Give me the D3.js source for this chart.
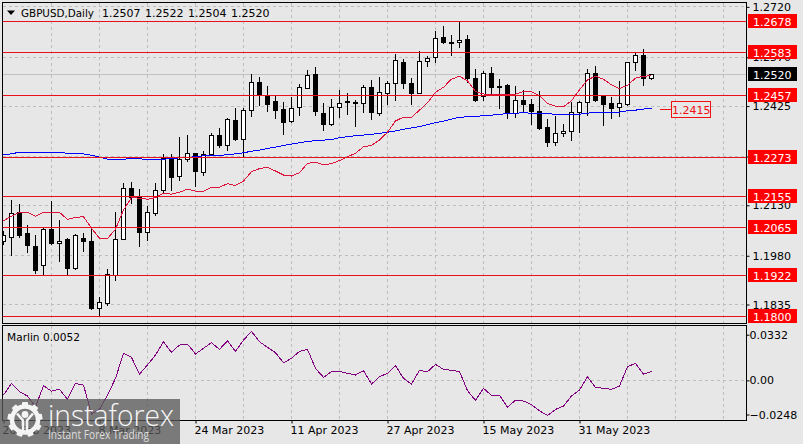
<!DOCTYPE html>
<html><head><meta charset="utf-8">
<script src="https://cdnjs.cloudflare.com/ajax/libs/d3/7.8.5/d3.min.js"></script>
<style>
html,body{margin:0;padding:0;background:#e7e7e7;overflow:hidden}
svg{display:block}
text{font-family:"DejaVu Sans",sans-serif;font-size:11px;fill:#000}
</style></head><body>
<svg id="c" width="803" height="444"></svg>
<script>
const symbolTitle="GBPUSD,Daily";
const titleValues=["1.2507","1.2522","1.2504","1.2520"];
const opens=[1.2022,1.2034,1.2108,1.2045,1.2009,1.1950,1.2059,1.2017,1.2027,1.1941,1.2030,1.2021,1.1824,1.1837,1.1921,1.2029,1.2181,1.2154,1.2050,1.2106,1.2175,1.2270,1.2215,1.2267,1.2285,1.2227,1.2282,1.2339,1.2307,1.2381,1.2326,1.2411,1.2496,1.2456,1.2438,1.2416,1.2379,1.2421,1.2478,1.2520,1.2404,1.2370,1.2421,1.2440,1.2436,1.2433,1.2481,1.2402,1.2462,1.2493,1.2555,1.2493,1.2462,1.2558,1.2570,1.2630,1.2615,1.2615,1.2622,1.2508,1.2455,1.2523,1.2484,1.2485,1.2404,1.2441,1.2431,1.2408,1.2360,1.2316,1.2343,1.2350,1.2405,1.2436,1.2523,1.2454,1.2433,1.2420,1.2429,1.2555,1.2574,1.2507];
const highs=[1.2056,1.2146,1.2134,1.2074,1.2042,1.2066,1.2143,1.2089,1.2035,1.2047,1.2049,1.2062,1.1860,1.1941,1.2113,1.2198,1.2202,1.2181,1.2128,1.2198,1.2283,1.2283,1.2336,1.2342,1.2286,1.2292,1.2347,1.2360,1.2392,1.2422,1.2421,1.2523,1.2514,1.2485,1.2458,1.2438,1.2455,1.2493,1.2535,1.2544,1.2436,1.2448,1.2473,1.2466,1.2446,1.2488,1.2505,1.2514,1.2500,1.2580,1.2567,1.2511,1.2589,1.2575,1.2651,1.2666,1.2639,1.2676,1.2639,1.2538,1.2532,1.2544,1.2508,1.2493,1.2485,1.2473,1.2447,1.2470,1.2387,1.2398,1.2372,1.2438,1.2443,1.2537,1.2545,1.2455,1.2455,1.2500,1.2557,1.2588,1.2597,1.2522];
const lows=[1.2012,1.1982,1.2034,1.1989,1.1926,1.1923,1.2012,1.1962,1.1923,1.1938,1.1992,1.1819,1.1801,1.1831,1.1906,1.2027,1.2136,1.2007,1.2025,1.2099,1.2166,1.2175,1.2205,1.2260,1.2187,1.2218,1.2280,1.2302,1.2292,1.2322,1.2275,1.2393,1.2428,1.2408,1.2387,1.2342,1.2376,1.2396,1.2476,1.2396,1.2352,1.2366,1.2390,1.2401,1.2364,1.2407,1.2384,1.2398,1.2430,1.2443,1.2476,1.2431,1.2461,1.2544,1.2556,1.2610,1.2575,1.2599,1.2495,1.2440,1.2441,1.2460,1.2417,1.2388,1.2392,1.2410,1.2369,1.2354,1.2304,1.2307,1.2334,1.2324,1.2346,1.2398,1.2438,1.2366,1.2387,1.2393,1.2428,1.2530,1.2485,1.2504];
const closes=[1.2039,1.2106,1.2039,1.2010,1.1935,1.2059,1.2015,1.2023,1.1941,1.2041,1.2022,1.1822,1.1841,1.1923,1.2029,1.2181,1.2153,1.2049,1.2109,1.2175,1.2270,1.2212,1.2265,1.2285,1.2230,1.2282,1.2339,1.2307,1.2384,1.2327,1.2413,1.2496,1.2458,1.2431,1.2411,1.2376,1.2418,1.2481,1.2517,1.2408,1.2370,1.2421,1.2433,1.2436,1.2434,1.2481,1.2405,1.2466,1.2493,1.2561,1.2493,1.2462,1.2558,1.2567,1.2627,1.2615,1.2614,1.2619,1.2506,1.2441,1.2523,1.2480,1.2482,1.2404,1.2443,1.2431,1.2408,1.2357,1.2316,1.2344,1.2350,1.2407,1.2436,1.2523,1.2443,1.2429,1.2417,1.2433,1.2555,1.2574,1.2506,1.2520];
const fastMA=[1.2084,1.2098,1.2109,1.2109,1.2098,1.2109,1.2109,1.2109,1.2088,1.2094,1.2096,1.2062,1.2032,1.2031,1.2059,1.2116,1.2153,1.2151,1.2148,1.2153,1.2166,1.2163,1.2169,1.2178,1.2172,1.2172,1.2184,1.2184,1.2194,1.2189,1.2202,1.2230,1.2239,1.2243,1.2232,1.2220,1.2217,1.2227,1.2255,1.2258,1.2250,1.2254,1.2263,1.2274,1.2285,1.2304,1.2308,1.2324,1.2347,1.2381,1.2392,1.2392,1.2413,1.2435,1.2466,1.2481,1.2505,1.2514,1.2500,1.2468,1.2461,1.2458,1.2459,1.2458,1.2460,1.2469,1.2468,1.2456,1.2433,1.2425,1.2423,1.2441,1.2473,1.2503,1.2514,1.2505,1.2488,1.2477,1.2487,1.2508,1.2514,1.2515];
const slowMA=[1.2280,1.2283,1.2288,1.2287,1.2287,1.2287,1.2287,1.2287,1.2285,1.2285,1.2283,1.2279,1.2273,1.2267,1.2267,1.2267,1.2269,1.2268,1.2267,1.2266,1.2267,1.2269,1.2271,1.2272,1.2275,1.2277,1.2279,1.2279,1.2280,1.2283,1.2286,1.2291,1.2294,1.2299,1.2303,1.2308,1.2312,1.2316,1.2320,1.2322,1.2324,1.2325,1.2331,1.2334,1.2337,1.2339,1.2341,1.2344,1.2347,1.2351,1.2356,1.2360,1.2364,1.2370,1.2376,1.2380,1.2386,1.2392,1.2393,1.2395,1.2396,1.2398,1.2401,1.2402,1.2404,1.2405,1.2404,1.2404,1.2402,1.2401,1.2401,1.2401,1.2401,1.2404,1.2407,1.2407,1.2407,1.2407,1.2411,1.2413,1.2416,1.2419];
const marlin=[-0.0107,-0.0022,-0.0082,-0.0114,-0.0192,-0.0039,-0.0078,-0.0065,-0.0138,-0.0022,-0.0034,-0.0245,-0.0211,-0.0107,0.0015,0.0196,0.0167,0.0046,0.0112,0.0184,0.0281,0.0204,0.0257,0.0264,0.0192,0.0233,0.0274,0.0225,0.0288,0.0211,0.0293,0.0356,0.0281,0.0240,0.0201,0.0128,0.0160,0.0211,0.0225,0.0087,0.0022,0.0063,0.0065,0.0051,0.0039,0.0070,-0.0027,0.0027,0.0051,0.0107,0.0015,-0.0027,0.0073,0.0063,0.0116,0.0080,0.0073,0.0065,-0.0075,-0.0145,-0.0058,-0.0109,-0.0109,-0.0196,-0.0143,-0.0150,-0.0177,-0.0221,-0.0255,-0.0211,-0.0187,-0.0114,-0.0070,0.0027,-0.0051,-0.0058,-0.0065,-0.0041,0.0099,0.0124,0.0044,0.0065];
const levels=[1.2678,1.2583,1.2457,1.2273,1.2155,1.2065,1.1922,1.1800];
const priceTicks=[1.2720,1.2570,1.2425,1.2275,1.2130,1.1980,1.1835];
const marlinTicks=[0.0332,0,-0.0248];
const currentPrice=1.2520;
const slowLabel=1.2415;
const dateLabels=["20 Feb 2023","8 Mar 2023","24 Mar 2023","11 Apr 2023","27 Apr 2023","15 May 2023","31 May 2023"];
const dateIndex=[0,12,24,36,48,60,72];
const gridIndex=[6,12,18,24,30,36,42,48,54,60,66,72,78,84,90];

const L=3,R=746.5,T1=3,B1=323.5,T2=325.5,B2=420.5;
const x=d3.scaleLinear().domain([0,81]).range([3.5,651.5]);
const y=d3.scaleLinear().domain([1.2678,1.18]).range([21,316.3]);
const ym=d3.scaleLinear().domain([0.0332,-0.0248]).range([334.7,414.5]);
const snap=v=>Math.round(v-0.5)+0.5;
const svg=d3.select("#c");
const defs=svg.append("defs");
defs.append("clipPath").attr("id","c1").append("rect").attr("x",L).attr("y",T1).attr("width",R-L).attr("height",B1-T1);
defs.append("clipPath").attr("id","c2").append("rect").attr("x",L).attr("y",T2).attr("width",R-L).attr("height",B2-T2);

const gridColor="#bdbdbd";
// vertical grid
[[T1,B1],[T2,B2]].forEach(([a,b])=>{
  svg.append("g").selectAll("line").data(gridIndex).join("line")
    .attr("x1",d=>x(d)).attr("x2",d=>x(d)).attr("y1",a).attr("y2",b)
    .attr("stroke",gridColor).attr("stroke-dasharray","3,3").attr("shape-rendering","crispEdges");
});
// horizontal grid
svg.append("g").selectAll("line").data(priceTicks).join("line")
  .attr("x1",L).attr("x2",R).attr("y1",d=>snap(y(d))).attr("y2",d=>snap(y(d)))
  .attr("stroke",gridColor).attr("stroke-dasharray","3,3").attr("shape-rendering","crispEdges");
svg.append("line").attr("x1",L).attr("x2",R).attr("y1",snap(ym(0))).attr("y2",snap(ym(0)))
  .attr("stroke",gridColor).attr("stroke-dasharray","3,3").attr("shape-rendering","crispEdges");
// current price line
svg.append("line").attr("x1",L).attr("x2",R).attr("y1",snap(y(currentPrice))).attr("y2",snap(y(currentPrice)))
  .attr("stroke","#c0c0c0").attr("shape-rendering","crispEdges");

// candles
const plot=svg.append("g").attr("clip-path","url(#c1)");
const idx=d3.range(opens.length);
plot.append("g").selectAll("line").data(idx).join("line")
  .attr("x1",i=>x(i)).attr("x2",i=>x(i)).attr("y1",i=>snap(y(highs[i]))).attr("y2",i=>snap(y(lows[i]))+0.5)
  .attr("stroke","#000").attr("shape-rendering","crispEdges");
plot.append("g").selectAll("rect").data(idx).join("rect")
  .attr("x",i=>x(i)-2).attr("width",4)
  .attr("y",i=>snap(y(Math.max(opens[i],closes[i]))))
  .attr("height",i=>Math.max(1,snap(y(Math.min(opens[i],closes[i])))-snap(y(Math.max(opens[i],closes[i])))))
  .attr("fill",i=>closes[i]>=opens[i]?"#fff":"#000").attr("stroke","#000").attr("shape-rendering","crispEdges");
// moving averages
const ln=d3.line().x((d,i)=>x(i)).y(d=>y(d));
plot.append("path").datum(slowMA).attr("d",ln).attr("fill","none").attr("stroke","#0000ff").attr("stroke-width",1).attr("shape-rendering","crispEdges");
plot.append("path").datum(fastMA).attr("d",ln).attr("fill","none").attr("stroke","#dc143c").attr("stroke-width",1).attr("shape-rendering","crispEdges");
// levels
svg.append("g").selectAll("line").data(levels).join("line")
  .attr("x1",L).attr("x2",R).attr("y1",d=>snap(y(d))).attr("y2",d=>snap(y(d)))
  .attr("stroke","#e8101a").attr("shape-rendering","crispEdges");
// label for slow MA
svg.append("line").attr("x1",660).attr("x2",671).attr("y1",109.5).attr("y2",109.5).attr("stroke","#f01010").attr("shape-rendering","crispEdges");
svg.append("rect").attr("x",671).attr("y",101.5).attr("width",39.5).attr("height",15.5).attr("fill","#e7e7e7").attr("stroke","#f01010").attr("shape-rendering","crispEdges");
svg.append("text").attr("x",672).attr("y",113.5).style("fill","#f01010").text(slowLabel.toFixed(4));

// marlin
svg.append("g").attr("clip-path","url(#c2)").append("path").datum(marlin)
  .attr("d",d3.line().x((d,i)=>x(i)).y(d=>ym(d))).attr("fill","none").attr("stroke","#800080").attr("stroke-width",1).attr("shape-rendering","crispEdges");

// frames
[[T1-0.5,B1],[T2,B2]].forEach(([a,b])=>{
  svg.append("rect").attr("x",L-0.5).attr("y",a).attr("width",R-L+0.5).attr("height",b-a)
    .attr("fill","none").attr("stroke","#000").attr("shape-rendering","crispEdges");
});

// axes
const ax=svg.append("g").attr("transform",`translate(${R},0)`)
  .call(d3.axisRight(y).tickValues(priceTicks).tickSize(3).tickPadding(3).tickFormat(d3.format(".4f")));
ax.select(".domain").remove();
const axm=svg.append("g").attr("transform",`translate(${R},0)`)
  .call(d3.axisRight(ym).tickValues(marlinTicks).tickSize(3).tickPadding(0).tickFormat(d=>d===0?"0.00":d3.format(".4f")(d)));
axm.select(".domain").remove();
svg.selectAll(".tick text").attr("font-family",null).attr("font-size",null).style("font-size","11px").style("fill","#000");
const axt=svg.append("g").attr("transform",`translate(0,${B2})`)
  .call(d3.axisBottom(x).tickValues(dateIndex).tickSize(3).tickPadding(4).tickFormat((d,i)=>dateLabels[i]));
axt.selectAll(".tick text").attr("text-anchor","start").attr("x",-1.5).attr("y",6).attr("dy","0.71em")
  .attr("font-family",null).attr("font-size",null).style("font-size","11px");
axt.select(".domain").remove();
[axt,ax,axm].forEach(g=>g.attr("fill",null).attr("font-size",null).attr("font-family",null));

// level labels
const lab=svg.append("g");
levels.forEach(v=>{
  const yy=snap(y(v));
  lab.append("rect").attr("x",748).attr("y",yy-7.5).attr("width",49).attr("height",14).attr("fill","#ff0000");
  lab.append("text").attr("x",753).attr("y",yy+4).style("fill","#fff").text(v.toFixed(4));
});
const cy=snap(y(currentPrice));
lab.append("rect").attr("x",748).attr("y",cy-7.5).attr("width",49).attr("height",14).attr("fill","#000");
lab.append("text").attr("x",753).attr("y",cy+4).style("fill","#fff").text(currentPrice.toFixed(4));

// title
svg.append("path").attr("d","M7,10.5L15,10.5L11,15Z").attr("fill","#000");
svg.append("text").attr("x",21).attr("y",16.5).attr("textLength",73).attr("lengthAdjust","spacingAndGlyphs").text(symbolTitle);
[102,145,188,231].forEach((tx,i)=>svg.append("text").attr("x",tx).attr("y",16.5).text(titleValues[i]));
svg.append("text").attr("x",7).attr("y",340.5).attr("textLength",73).attr("lengthAdjust","spacingAndGlyphs").text("Marlin 0.0052");

// watermark
const wm=svg.append("g");
wm.append("rect").attr("x",0).attr("y",399).attr("width",180).attr("height",45).attr("fill","rgba(88,88,88,0.76)");
const gear=wm.append("g").attr("transform","translate(25,419.5)");
d3.range(9).forEach(k=>gear.append("rect").attr("x",-3).attr("y",-17.5).attr("width",6).attr("height",6).attr("rx",1)
  .attr("fill","#f4f4f4").attr("transform",`rotate(${k*40})`));
gear.append("circle").attr("r",13).attr("fill","none").attr("stroke","#f4f4f4").attr("stroke-width",4.5);
gear.append("circle").attr("cy",-5).attr("r",3.4).attr("fill","#f4f4f4");
gear.append("path").attr("d","M-8,-6L-2,1L-2,13M8,-6L2,1L2,13").attr("fill","none").attr("stroke","#f4f4f4").attr("stroke-width",2.6);
wm.append("text").attr("x",48).attr("y",425.5).attr("textLength",126).attr("lengthAdjust","spacingAndGlyphs")
  .style("font-family","'Open Sans',sans-serif").style("font-size","30px").style("font-weight","300").style("fill","#f6f6f6").text("instaforex");
wm.append("text").attr("x",48).attr("y",439).attr("textLength",101).attr("lengthAdjust","spacingAndGlyphs")
  .style("font-family","'Open Sans',sans-serif").style("font-size","12.5px").style("fill","#dddddd").text("Instant Forex Trading");
</script>
</body></html>
